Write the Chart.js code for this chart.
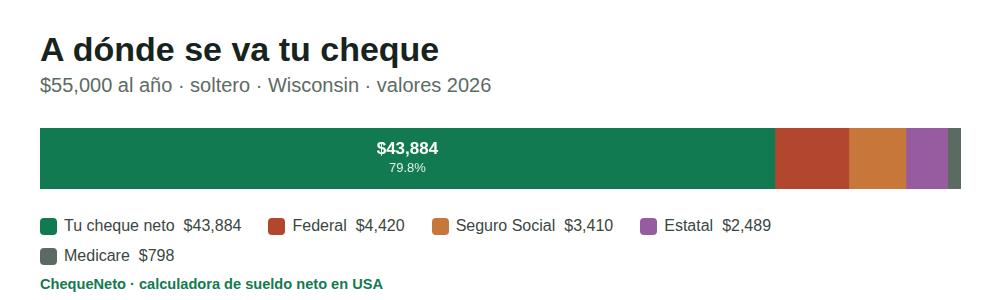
<!DOCTYPE html>
<html>
<head>
<meta charset="utf-8">
<script src="https://cdn.jsdelivr.net/npm/chart.js@4/dist/chart.umd.min.js"></script>
<style>
    html, body { margin: 0; padding: 0; background: #ffffff; }
    body { width: 1000px; height: 300px; position: relative; overflow: hidden;
        font-family: "Liberation Sans", Arial, sans-serif; }
    #title { position: absolute; left: 40px; top: 30px; font-size: 34px; font-weight: bold;
        color: #17231d; white-space: nowrap; }
    #subtitle { position: absolute; left: 40px; top: 74px; font-size: 20px; color: #5c6b63;
        white-space: nowrap; }
    #bar-wrap { position: absolute; left: 40px; top: 128px; width: 921px; height: 61px; }
    #legend { position: absolute; left: 40px; top: 214px; width: 800px;
        display: flex; flex-wrap: wrap; row-gap: 6px; }
    .item { display: flex; align-items: center; height: 24px; margin-right: 27px;
        font-size: 16px; color: #3a4741; white-space: nowrap; }
    .swatch { width: 17px; height: 17px; border-radius: 4px; margin-right: 7px; }
    .val { margin-left: 9px; }
    #footer { position: absolute; left: 40px; top: 276px; font-size: 14.6px; font-weight: bold;
        color: #137a50; white-space: nowrap; }
</style>
</head>
<body>
<div id="title">A dónde se va tu cheque</div>
<div id="subtitle">$55,000 al año · soltero · Wisconsin · valores 2026</div>
<div id="bar-wrap"><canvas id="chart"></canvas></div>
<div id="legend"></div>
<div id="footer">ChequeNeto · calculadora de sueldo neto en USA</div>

<script>
    // Data
    const categories = ['Tu cheque neto', 'Federal', 'Seguro Social', 'Estatal', 'Medicare'];
    const amounts = [43884, 4420, 3410, 2489, 798];
    const colors = ['#127a50', '#b3462f', '#c8773b', '#975ca0', '#5c6b62'];

    const total = amounts.reduce((a, b) => a + b, 0);

    function money(v) {
        return '$' + v.toLocaleString('en-US');
    }

    // Labels inside wide segments
    const segmentLabels = {
        id: 'segmentLabels',
        afterDatasetsDraw(chart) {
            const ctx = chart.ctx;
            chart.data.datasets.forEach(function(ds, i) {
                const el = chart.getDatasetMeta(i).data[0];
                if (!el) return;
                const w = Math.abs(el.x - el.base);
                if (w < 120) return;
                const cx = (el.x + el.base) / 2;
                ctx.save();
                ctx.textAlign = 'center';
                ctx.textBaseline = 'middle';
                ctx.fillStyle = '#ffffff';
                ctx.font = 'bold 17px "Liberation Sans", Arial, sans-serif';
                ctx.fillText(money(ds.data[0]), cx, el.y - 9);
                ctx.fillStyle = 'rgba(255,255,255,0.88)';
                ctx.font = '13px "Liberation Sans", Arial, sans-serif';
                ctx.fillText((ds.data[0] / total * 100).toFixed(1) + '%', cx, el.y + 10);
                ctx.restore();
            });
        }
    };

    new Chart(document.getElementById('chart'), {
        type: 'bar',
        data: {
            labels: [''],
            datasets: categories.map((name, i) => ({
                label: name,
                data: [amounts[i]],
                backgroundColor: colors[i],
                borderWidth: 0,
                barPercentage: 1,
                categoryPercentage: 1
            }))
        },
        options: {
            indexAxis: 'y',
            responsive: true,
            maintainAspectRatio: false,
            animation: false,
            layout: { padding: 0 },
            scales: {
                x: { stacked: true, display: false, min: 0, max: total },
                y: { stacked: true, display: false }
            },
            plugins: {
                legend: { display: false },
                tooltip: { enabled: false }
            }
        },
        plugins: [segmentLabels]
    });

    // HTML legend built from the same arrays
    const legend = document.getElementById('legend');
    categories.forEach(function(name, i) {
        const item = document.createElement('div');
        item.className = 'item';
        item.innerHTML = '<span class="swatch" style="background:' + colors[i] + '"></span>' +
            '<span>' + name + '</span><span class="val">' + money(amounts[i]) + '</span>';
        legend.appendChild(item);
    });
</script>
</body>
</html>
